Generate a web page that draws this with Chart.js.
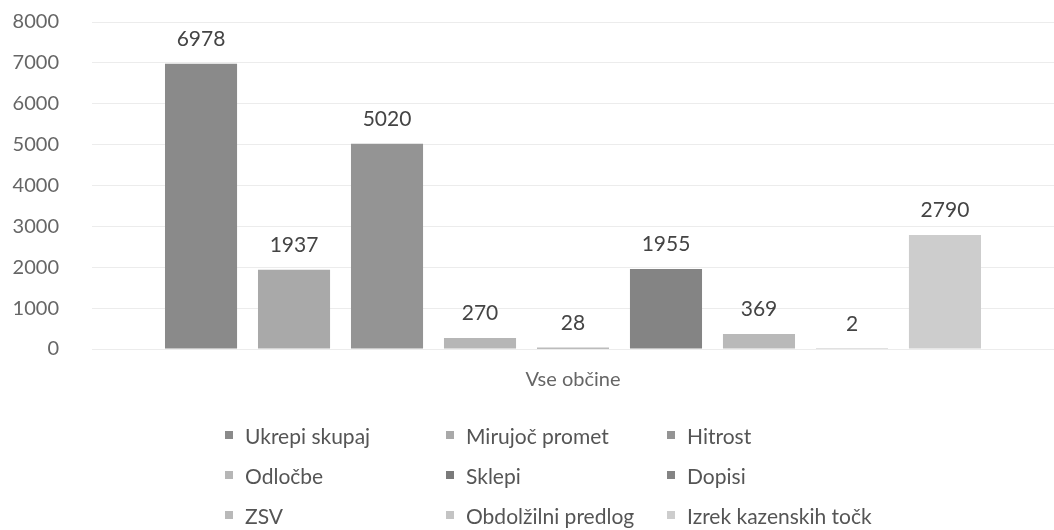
<!DOCTYPE html>
<html>
<head>
<meta charset="utf-8">
<script src="https://cdn.jsdelivr.net/npm/chart.js@4.4.0/dist/chart.umd.min.js"></script>
<style>
  html, body { margin: 0; padding: 0; background: #fff; }
  #wrap { position: relative; width: 1054px; height: 530px; font-family: Lato, 'Open Sans', sans-serif; }
  #chart-box { position: absolute; left: 0; top: 0; width: 1054px; height: 420px; }
  #legend { position: absolute; left: 225px; top: 415px; display: grid; grid-template-columns: 221px 221px 221px; }
  .lg-item { display: flex; align-items: center; height: 40px; font-size: 21px; color: #555; white-space: nowrap; }
  .lg-box { width: 8px; height: 8px; margin-right: 12px; flex-shrink: 0; }
</style>
</head>
<body>
<div id="wrap">
  <div id="chart-box"><canvas id="c"></canvas></div>
  <div id="legend"></div>
</div>
<script>
'use strict';

// --- data ---
const categories = ['Vse občine'];
const seriesNames = ['Ukrepi skupaj', 'Mirujoč promet', 'Hitrost', 'Odločbe', 'Sklepi', 'Dopisi', 'ZSV', 'Obdolžilni predlog', 'Izrek kazenskih točk'];
const seriesValues = [6978, 1937, 5020, 270, 28, 1955, 369, 2, 2790];
const seriesColors = ['#8a8a8a', '#a9a9a9', '#949494', '#b6b6b6', '#7a7a7a', '#848484', '#b9b9b9', '#c4c4c4', '#cdcdcd'];
const yTicks = [0, 1000, 2000, 3000, 4000, 5000, 6000, 7000, 8000];

const FONT = 'Lato, "Open Sans", sans-serif';

// value labels above each bar
const valueLabels = {
  id: 'valueLabels',
  afterDatasetsDraw(chart) {
    const ctx = chart.ctx;
    ctx.save();
    ctx.font = '21px ' + FONT;
    ctx.fillStyle = '#444';
    ctx.textAlign = 'center';
    ctx.textBaseline = 'middle';
    chart.data.datasets.forEach((ds, i) => {
      const meta = chart.getDatasetMeta(i);
      meta.data.forEach((bar, j) => {
        ctx.fillText(String(ds.data[j]), bar.x, bar.y - 25);
      });
    });
    ctx.restore();
  }
};

const chart = new Chart(document.getElementById('c'), {
  type: 'bar',
  data: {
    labels: categories,
    datasets: seriesNames.map((name, i) => ({
      label: name,
      data: [seriesValues[i]],
      backgroundColor: seriesColors[i],
      borderWidth: 0,
    })),
  },
  options: {
    responsive: true,
    maintainAspectRatio: false,
    animation: false,
    layout: { padding: { top: 22, right: 0, bottom: 26, left: 0 } },
    datasets: { bar: { categoryPercentage: 0.87, barPercentage: 0.775 } },
    plugins: {
      legend: { display: false },
      tooltip: { enabled: false },
    },
    scales: {
      x: {
        grid: { display: false },
        border: { display: false },
        ticks: { color: '#666', font: { family: FONT, size: 20 }, padding: 11 },
        afterFit(s) { s.height = 45; },
      },
      y: {
        min: 0,
        max: 8000,
        afterBuildTicks(s) { s.ticks = yTicks.map(v => ({ value: v })); },
        grid: { color: '#ececec', drawTicks: false },
        border: { display: false },
        ticks: { color: '#666', font: { family: FONT, size: 20 }, padding: 33, callback: v => String(v) },
        afterFit(s) {
          s.width = 92;
          // the tick padding would otherwise push the plot top down
          s.paddingTop = 0;
          s.paddingBottom = 0;
        },
      },
    },
  },
  plugins: [valueLabels],
});

// legend, 3 columns like the original
const legendEl = document.getElementById('legend');
legendEl.innerHTML = chart.data.datasets.map(ds => `
  <div class="lg-item"><span class="lg-box" style="background:${ds.backgroundColor};"></span>${ds.label}</div>
`).join('');
</script>
</body>
</html>
